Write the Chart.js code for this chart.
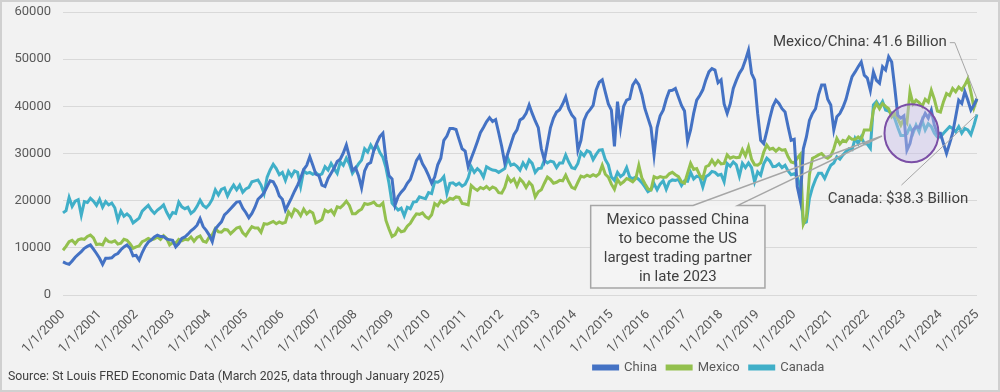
<!DOCTYPE html>
<html>
<head>
<meta charset="utf-8">
<script src="https://cdn.jsdelivr.net/npm/chart.js@4.4.1/dist/chart.umd.min.js"></script>
<style>
  html, body { margin: 0; padding: 0; background: #f2f2f2; }
  #wrap { width: 1000px; height: 392px; }
</style>
</head>
<body>
<div id="wrap"><canvas id="tradeChart" width="1000" height="392"></canvas></div>
<script>
// monthly US imports, millions of dollars, Jan 2000 - Jan 2025
const firstYear = 2000;
const months = [];
for (let i = 0; i < 301; i++) {
  months.push(((i % 12) + 1) + '/1/' + (firstYear + Math.floor(i / 12)));
}

const china = [
  7000, 6700, 6500, 7200, 8000, 8600, 9200, 9900, 10300, 10600, 9700, 8800,
  7800, 6500, 7800, 7800, 7900, 8500, 8800, 9600, 10200, 10600, 9900, 8300,
  8400, 7400, 9000, 10300, 11200, 11700, 12300, 12700, 12400, 12400, 11900, 11700,
  11600, 10200, 10900, 12000, 12300, 12900, 13600, 14100, 14800, 16200, 14500, 13700,
  12700, 11300, 14000, 14800, 15500, 17000, 17600, 18300, 19000, 19700, 19800, 18400,
  17500, 16400, 17300, 18600, 20300, 20900, 21700, 23000, 24200, 24000, 22800, 21000,
  20300, 18000, 19300, 20600, 22000, 23300, 24800, 26600, 27500, 29300, 27500, 25600,
  25300, 23300, 23000, 24700, 25800, 26900, 28300, 28800, 30100, 31800, 29300, 26400,
  27000, 25300, 22700, 26300, 27700, 28100, 30600, 32200, 33600, 34300, 28800, 25300,
  24600, 19100, 20900, 21800, 22500, 23700, 24500, 26400, 28500, 29500, 27800, 26700,
  25300, 23700, 25000, 27600, 29000, 32800, 33700, 35300, 35300, 35100, 33000, 31000,
  30500, 27200, 29000, 30700, 32500, 34400, 35500, 36700, 37600, 36800, 37200, 34400,
  31500, 28000, 30000, 32000, 34000, 35000, 37100, 37500, 38500, 40300, 38500, 36900,
  35500, 31000, 28600, 32000, 35500, 37500, 38800, 39300, 40500, 42000, 39500, 38200,
  37400, 30700, 32800, 37000, 38500, 39300, 40200, 43500, 45100, 45600, 43000, 40500,
  39200, 31500, 41000, 35500, 40000, 41300, 41600, 44500, 45500, 44600, 42500, 39500,
  37500, 35500, 29700, 35500, 38000, 39200, 41500, 43300, 43400, 43800, 42000, 40200,
  39000, 32600, 35000, 38500, 41300, 42300, 43500, 45600, 47300, 48000, 47700, 45000,
  45600, 40500, 38500, 40500, 43800, 45500, 47000, 48000, 49800, 51900, 47000, 45600,
  38500, 32800, 32100, 34700, 37500, 40000, 41300, 40600, 39500, 38800, 35700, 32800,
  33000, 23000, 20000, 31000, 33500, 37000, 38500, 39500, 42500, 44500, 44500, 41500,
  40300, 35000, 37800, 38500, 39800, 41500, 44000, 46300, 47300, 48400, 49400, 46600,
  46000, 43400, 47300, 45500, 44900, 48400, 47700, 50500, 49400, 44000, 38100, 37500,
  38000, 30700, 32100, 35000, 35700, 35500, 37100, 38500, 37500, 39200, 36000, 34300,
  34300, 32100, 30000, 32100, 34300, 37800, 41300, 40600, 43100, 41300, 39200, 40300,
  41600
];

const mexico = [
  9500, 10300, 11300, 11600, 10900, 11700, 11900, 11800, 12400, 12700, 12100, 10700,
  10800, 10600, 11900, 11300, 11200, 11500, 10800, 11000, 11800, 11600, 10900, 9900,
  10200, 10400, 11300, 11600, 12000, 11700, 11900, 12300, 11800, 12600, 12000, 10600,
  11100, 11000, 11800, 11500, 11800, 11700, 12300, 11400, 12200, 12500, 11400, 11200,
  12300, 12800, 14100, 13400, 13300, 13900, 13800, 13000, 13600, 14200, 14400, 13200,
  12600, 13600, 14500, 14200, 14200, 13300, 15100, 15000, 15300, 15600, 15100, 15500,
  15200, 15400, 17600, 16700, 18200, 17800, 16800, 18200, 17200, 17800, 17400, 15300,
  15600, 16000, 18000, 17600, 18000, 17100, 18700, 18500, 19100, 19900, 19000, 17200,
  17200, 17800, 18200, 19400, 19200, 19400, 19700, 19000, 18900, 19500, 15800, 14000,
  12400, 12800, 14100, 13400, 13600, 14600, 15200, 16300, 17200, 17100, 17400, 16600,
  16200, 17000, 19400, 18900, 20000, 19500, 19900, 20500, 20300, 20800, 20700, 19400,
  19300, 19100, 23200, 22600, 22200, 22800, 22500, 23000, 22400, 22900, 22600, 21700,
  21600, 22800, 25000, 24000, 24600, 23100, 24600, 23900, 22800, 23900, 23200, 20800,
  21900, 22300, 23700, 25000, 24500, 23700, 23900, 24300, 24200, 25400, 24000, 22800,
  22500, 23900, 25200, 25000, 25400, 25100, 25500, 25200, 25700, 27500, 25600, 25000,
  23500, 22400, 24500, 23500, 24000, 24700, 24400, 24000, 24700, 27500, 24800, 23600,
  22500, 22300, 25100, 24800, 25100, 24900, 25000, 25700, 26000, 25500, 25100, 24000,
  23700, 25800, 27900, 26600, 26800, 25400, 24700, 27200, 27500, 28600, 27600, 28500,
  27800, 27900, 29700, 29000, 29300, 29100, 29200, 30800, 29500, 31400, 28800, 27600,
  27500, 28000, 30300, 31800, 30900, 31100, 30500, 31100, 30700, 30800, 29300, 28200,
  28000, 29000, 29800, 15000, 16400, 25500, 29000, 29300, 29700, 30000, 29300, 29000,
  29500, 31000, 33200, 32000, 32800, 32500, 33500, 33000, 33000, 33500, 33000, 35000,
  35000, 35000, 39200, 40600, 39500, 40600, 40000, 39500, 37800, 38500, 37400, 36000,
  37400, 36500, 43100, 40500, 41300, 40800, 40000, 41500, 40900, 43400, 41500, 39000,
  38800, 41000, 42700, 42300, 43800, 43100, 44100, 43500, 44500, 45800, 43000, 39700,
  41600
];

const canada = [
  17400, 17900, 20700, 18800, 19900, 20200, 16900, 19800, 19600, 20500, 19900, 19000,
  20300, 18600, 19800, 19100, 19500, 18500, 15900, 17800, 16700, 17200, 16600, 15300,
  15800, 16300, 17800, 18400, 19000, 18000, 17300, 18000, 18500, 19100, 17600, 16400,
  17500, 17300, 19700, 18700, 18300, 18600, 17300, 17800, 18800, 20100, 19000, 18500,
  19200, 20300, 22300, 21200, 22400, 22700, 21000, 22300, 23300, 22300, 23300, 21800,
  22500, 22800, 24000, 24200, 24400, 23300, 21500, 25000, 26500, 27700, 26800, 25500,
  26000, 24300, 26200, 25200, 26300, 26000, 23000, 26300, 25800, 26000, 25600, 25900,
  25400, 25700, 27200, 26500, 27900, 26800, 25800, 28200, 27500, 29000, 27800, 25800,
  26800, 27800, 28600, 31000, 30300, 31800, 30700, 31800, 30200, 29200, 27000, 23700,
  19500, 18700, 18000, 18400, 16800, 18600, 18300, 19700, 19800, 20800, 20600, 20400,
  21700, 21500, 24000, 23900, 24300, 25100, 21500, 23700, 23800, 23300, 23700, 23100,
  23500, 24800, 27200, 26000, 26800, 26200, 25000, 27200, 26800, 26500, 26400, 26000,
  26400, 26800, 29000, 27500, 27800, 27300, 26500, 28000, 27000, 28600, 27900, 26000,
  26800, 26900, 28600, 28000, 28400, 28200, 27000, 28000, 28000, 29700, 28200, 27000,
  26800, 27900, 30200, 29500, 30600, 30300, 28700, 29800, 30700, 30800, 28700, 27600,
  25000, 24300, 26000, 25100, 25600, 27000, 25000, 24700, 25000, 24500, 23800, 22900,
  21900, 22300, 23600, 22300, 23500, 24200, 22400, 24000, 24400, 24300, 24500, 23200,
  24200, 24100, 26000, 24600, 25200, 25000, 22900, 25100, 25500, 26200, 26000, 25400,
  25600, 24000, 27900, 27300, 28200, 27600, 25200, 27900, 27000, 28000, 27000, 24000,
  26100, 25400, 27800, 29000, 28400, 27200, 27300, 27800, 27000, 27500, 26300, 25500,
  25700, 25000, 23000, 15200, 15500, 20500, 22800, 24500, 25800, 25800, 24700, 26200,
  27500, 28000, 29300, 28800, 29700, 30400, 31000, 30800, 33200, 32100, 33500, 32100,
  32000, 31100, 40300, 41000, 39900, 41000, 39200, 39000, 38500, 37400, 35500, 33800,
  33800, 34200, 35700, 34300, 36000, 34600, 37000, 35000, 36300, 35700, 34300, 33500,
  33500, 34300, 35000, 35700, 35300, 34600, 35700, 34300, 35300, 35000, 34000, 36000,
  38300
];

const calloutLines = ['Mexico passed China', 'to become the US', 'largest trading partner', 'in late 2023'];
const mexicoChinaNote = 'Mexico/China: 41.6 Billion';
const canadaNote = 'Canada: $38.3 Billion';
const sourceNote = 'Source: St Louis FRED Economic Data (March 2025, data through January 2025)';

const textColor = '#404040';
const tickColor = '#595959';
const leaderColor = '#a6a6a6';

Chart.defaults.font.family = 'Roboto';

const notes = {
  id: 'notes',
  beforeDraw(chart) {
    const ctx = chart.ctx;
    ctx.save();
    ctx.fillStyle = '#f2f2f2';
    ctx.fillRect(0, 0, chart.width, chart.height);
    ctx.strokeStyle = '#d0d0d0';
    ctx.lineWidth = 2;
    ctx.strokeRect(1, 1, chart.width - 2, chart.height - 2);
    ctx.restore();
  },
  afterLayout(chart) {
    // legend sits right of centre in the original
    const lg = chart.legend;
    const shift = 709 - (lg.left + lg.right) / 2;
    lg.left += shift;
    lg.right += shift;
  },
  afterDatasetsDraw(chart) {
    const ctx = chart.ctx;
    const x = chart.scales.x, y = chart.scales.y;
    const last = months.length - 1;
    ctx.save();

    // circle round late 2023
    ctx.beginPath();
    ctx.ellipse(x.getPixelForValue(278.5), y.getPixelForValue(34300), 27, 29, 0, 0, Math.PI * 2);
    ctx.fillStyle = 'rgba(200, 190, 232, 0.45)';
    ctx.fill();
    ctx.lineWidth = 2;
    ctx.strokeStyle = '#7b4fa6';
    ctx.stroke();

    // callout box with pointer
    const bl = x.getPixelForValue(173.2), br = x.getPixelForValue(230.4);
    const bt = y.getPixelForValue(19000), bb = y.getPixelForValue(1500);
    const p1 = x.getPixelForValue(206.8), p2 = x.getPixelForValue(221.5);
    const tipX = x.getPixelForValue(268.8), tipY = y.getPixelForValue(33700);
    ctx.fillStyle = '#f4f4f4';
    ctx.fillRect(bl, bt, br - bl, bb - bt);
    ctx.beginPath();
    ctx.moveTo(bl, bt);
    ctx.lineTo(p1, bt);
    ctx.lineTo(tipX, tipY);
    ctx.lineTo(p2, bt);
    ctx.lineTo(br, bt);
    ctx.lineTo(br, bb);
    ctx.lineTo(bl, bb);
    ctx.closePath();
    ctx.strokeStyle = leaderColor;
    ctx.lineWidth = 1.5;
    ctx.stroke();

    ctx.fillStyle = textColor;
    ctx.font = '15px Roboto';
    ctx.textAlign = 'center';
    ctx.textBaseline = 'middle';
    calloutLines.forEach((t, i) => {
      ctx.fillText(t, (bl + br) / 2, bt + 15 + i * 19);
    });

    // end-of-series notes
    const mcY = y.getPixelForValue(53500);
    const mcRight = x.getPixelForValue(290.1);
    ctx.textAlign = 'right';
    ctx.fillText(mexicoChinaNote, mcRight, mcY);
    ctx.beginPath();
    ctx.moveTo(mcRight + 3, mcY);
    ctx.lineTo(mcRight + 8, mcY);
    ctx.lineTo(x.getPixelForValue(last), y.getPixelForValue(china[last]));
    ctx.lineWidth = 1;
    ctx.strokeStyle = leaderColor;
    ctx.stroke();

    ctx.textAlign = 'left';
    ctx.fillText(canadaNote, x.getPixelForValue(251), y.getPixelForValue(20300));
    ctx.beginPath();
    ctx.moveTo(x.getPixelForValue(275.2), y.getPixelForValue(23300));
    ctx.lineTo(x.getPixelForValue(last), y.getPixelForValue(canada[last]));
    ctx.stroke();

    ctx.restore();
  },
  afterDraw(chart) {
    const ctx = chart.ctx;
    ctx.save();
    ctx.fillStyle = textColor;
    ctx.font = '12.3px Roboto';
    ctx.textAlign = 'left';
    ctx.textBaseline = 'middle';
    ctx.fillText(sourceNote, 8, chart.height - 15);
    ctx.restore();
  }
};

new Chart(document.getElementById('tradeChart'), {
  type: 'line',
  data: {
    labels: months,
    datasets: [
      { label: 'China', data: china, borderColor: '#4472c4', backgroundColor: '#4472c4' },
      { label: 'Mexico', data: mexico, borderColor: '#93c04e', backgroundColor: '#93c04e' },
      { label: 'Canada', data: canada, borderColor: '#40afc8', backgroundColor: '#40afc8' }
    ]
  },
  options: {
    responsive: false,
    animation: false,
    devicePixelRatio: 1,
    layout: { padding: { top: 12, right: 23, left: 0, bottom: 8 } },
    elements: {
      line: { borderWidth: 3, tension: 0 },
      point: { radius: 0 }
    },
    scales: {
      x: {
        grid: { display: false },
        border: { display: false },
        ticks: {
          autoSkip: false,
          minRotation: 45,
          maxRotation: 45,
          padding: 4,
          color: tickColor,
          font: { size: 13 },
          callback: (v, i) => (i % 12 === 0 ? months[i] : '')
        },
        afterFit: (s) => { s.height = 56; }
      },
      y: {
        min: 0,
        max: 60000,
        grid: { color: '#d9d9d9', drawTicks: false },
        border: { display: false },
        ticks: {
          stepSize: 10000,
          padding: 12,
          color: tickColor,
          font: { size: 13 },
          callback: (v) => String(v)
        },
        afterFit: (s) => {
          s.width = 63;
          s.paddingTop = 0;
          s.paddingBottom = 0;
        }
      }
    },
    plugins: {
      legend: {
        position: 'bottom',
        labels: {
          boxWidth: 24,
          boxHeight: 3,
          padding: 10,
          color: tickColor,
          font: { size: 13 }
        }
      },
      tooltip: { enabled: false }
    }
  },
  plugins: [notes]
});
</script>
</body>
</html>
